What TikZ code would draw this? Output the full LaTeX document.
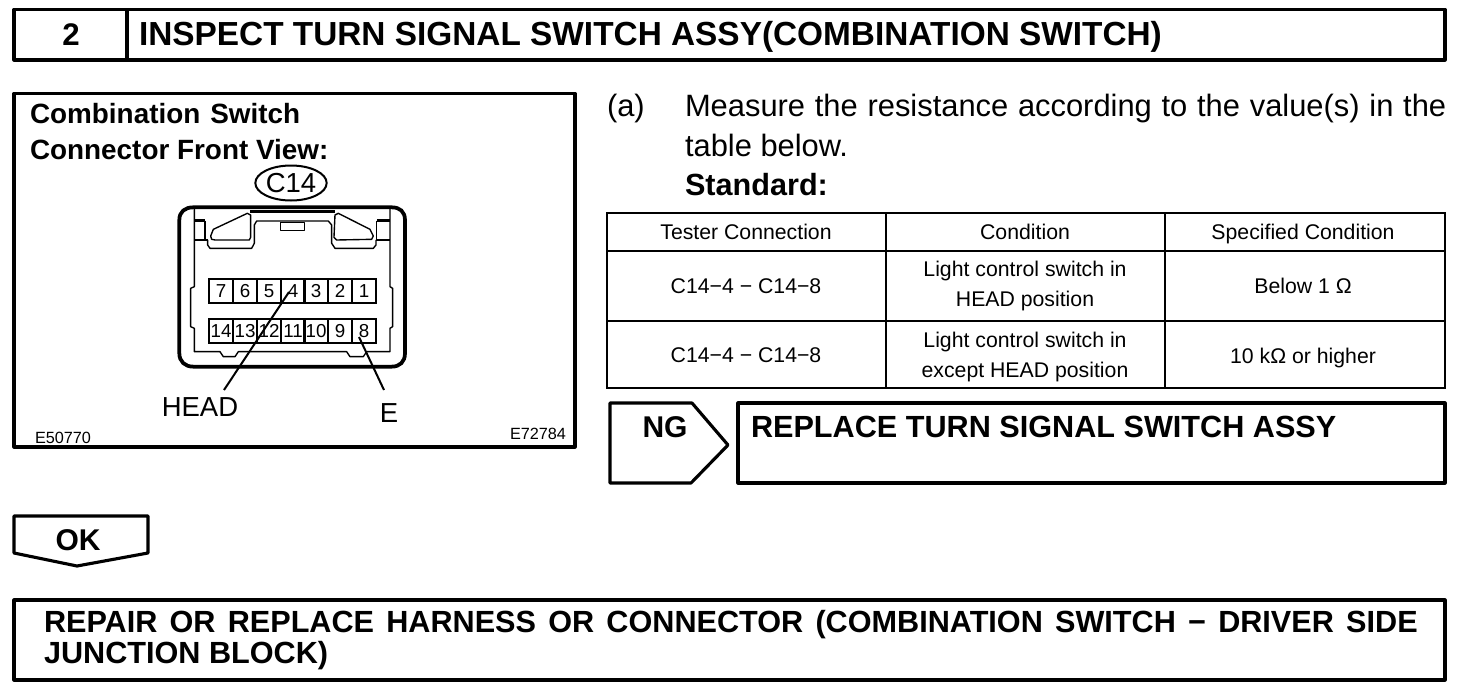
\documentclass[tikz,border=0pt]{standalone}
\usepackage{fontspec}
\setmainfont{Liberation Sans}
\usetikzlibrary{shapes.geometric}

\tikzset{
  heavyline/.style={line width=2.5pt,line join=round},
  tableline/.style={line width=2.1pt},
  thinline/.style={line width=1.1pt,line join=round},
  wallline/.style={line width=1.9pt,line join=round},
  boldtext/.style={anchor=base west,font=\fontsize{24.5}{24.5}\selectfont\bfseries},
  bodytext/.style={anchor=base west,font=\fontsize{24.7}{24.7}\selectfont},
  celltext/.style={align=center,font=\fontsize{17}{24.5}\selectfont},
  pinbox/.style={draw,line width=1.5pt,minimum width=19pt,minimum height=19pt,font=\fontsize{15}{15}\selectfont},
  smalltext/.style={anchor=base west,font=\fontsize{13}{13}\selectfont},
  labeltext/.style={font=\fontsize{22}{22}\selectfont}
}

\begin{document}
\begin{tikzpicture}[y=0.8pt, x=0.8pt,yscale=-1, inner sep=0pt, outer sep=0pt]
\useasboundingbox (0,0) rectangle (1472,690);

  % title bar
  \draw[heavyline] (14,9.5) rectangle (1445,60);
  \draw[heavyline] (127,9.5) -- (127,60);
  \path (71,45) node[anchor=base,font=\fontsize{25}{25}\selectfont\bfseries] (txtnum) {2};
  \path (139,45) node[anchor=base west,font=\fontsize{26.7}{26.7}\selectfont\bfseries] (txttitle) {INSPECT TURN SIGNAL SWITCH ASSY(COMBINATION SWITCH)};

  % connector panel
  \draw[heavyline] (14,93.5) rectangle (575,447);
  \path (30,123) node[boldtext,font=\fontsize{22.3}{22.3}\selectfont\bfseries] (txtcomb) {Combination\hspace{8pt}Switch};
  \path (30,159) node[boldtext,font=\fontsize{22.3}{22.3}\selectfont\bfseries] (txtview) {Connector Front View:};
  \path (291,183) node[draw,ellipse,line width=1.6pt,minimum width=56pt,minimum height=28pt,font=\fontsize{22}{22}\selectfont] (c14) {C14};

  \begin{scope}[shift={(160,160)},scale=0.3333]
    \draw[line width=3pt] (58,180) .. controls (58,155) and (75,142) .. (100,142) -- (695,142) .. controls (720,142) and (735,155) .. (735,180) -- (735,580) .. controls (735,605) and (720,620) .. (695,620) -- (100,620) .. controls (75,620) and (58,605) .. (58,580) -- cycle;
    \draw[thinline] (103,142) -- (103,380) -- (92,385) -- (92,500) -- (103,505) -- (103,575) -- (180,575) -- (190,590) -- (225,590) -- (235,575) -- (560,575) -- (570,590) -- (610,590) -- (620,575) -- (690,575) -- (690,505) -- (698,500) -- (698,385) -- (690,380) -- (690,142);
    \draw[wallline] (103,182) -- (135,182);
    \draw[wallline] (103,240) -- (143,240);
    \draw[thinline] (135,182) -- (135,240);
    \draw[wallline] (690,182) -- (650,182);
    \draw[wallline] (690,240) -- (648,240);
    \draw[thinline] (650,182) -- (650,240);
    \draw[wallline] (270,155) -- (525,155);
    \draw[thinline] (143,240) -- (143,255) -- (150,265) -- (275,265) -- (283,250) -- (283,195) -- (290,183) -- (505,183) -- (515,195) -- (515,250) -- (525,265) -- (640,265) -- (648,255) -- (648,240);
    \draw[thinline] (152,228) -- (160,208) -- (262,160) -- (272,165) -- (272,232) -- (268,240) -- (165,240) -- (155,238) -- cycle;
    \draw[thinline] (525,165) -- (535,160) -- (630,208) -- (640,228) -- (635,238) -- (530,240) -- (522,232) -- cycle;
    \draw[thinline] (362,187) rectangle (433,212);
  \end{scope}

  % upper pin row
  \path (221,291) node[pinbox] (pin7) {7};
  \path (245,291) node[pinbox] (pin6) {6};
  \path (269,291) node[pinbox] (pin5) {5};
  \path (293,291) node[pinbox] (pin4) {4};
  \path (316,291) node[pinbox] (pin3) {3};
  \path (340,291) node[pinbox] (pin2) {2};
  \path (364,291) node[pinbox] (pin1) {1};
  % lower pin row
  \path (221,331) node[pinbox] (pin14) {14};
  \path (245,331) node[pinbox] (pin13) {13};
  \path (269,331) node[pinbox] (pin12) {12};
  \path (293,331) node[pinbox] (pin11) {11};
  \path (316,331) node[pinbox] (pin10) {10};
  \path (340,331) node[pinbox] (pin9) {9};
  \path (364,331) node[pinbox] (pin8) {8};

  \path (200,407) node[labeltext] (txthead) {HEAD};
  \path (389,413) node[labeltext] (txte) {E};
  \coordinate (headend) at (224,390);
  \coordinate (eend) at (384,390);
  \coordinate (headtip) at (289,292);
  \coordinate (etip) at (359,337);
  \draw[line width=1.6pt] (headtip) -- (headend);
  \draw[line width=1.6pt] (etip) -- (eend);
  \path (35,443) node[smalltext] (txtcodea) {E50770};
  \path (510,439) node[smalltext] (txtcodeb) {E72784};

  % step text
  \path (607,116) node[bodytext] (txta) {(a)};
  \path (685,94) node[anchor=north west,text width=609pt,align=justify,font=\fontsize{24.7}{32}\selectfont] (txtmeasure) {Measure the resistance according to the value(s) in the table below.};
  \path (685,195) node[boldtext] (txtstd) {Standard:};

  % table
  \draw[tableline] (607,213) rectangle (1445,388);
  \draw[tableline] (607,251) -- (1445,251);
  \draw[tableline] (607,321) -- (1445,321);
  \draw[tableline] (886,213) -- (886,388);
  \draw[tableline] (1165,213) -- (1165,388);
  \path (746,232) node[celltext] (cellaa) {Tester Connection};
  \path (1025,232) node[celltext] (cellab) {Condition};
  \path (1303,234) node[celltext] (cellac) {Specified Condition};
  \path (746,286) node[celltext] (cellba) {C14−4 − C14−8};
  \path (1025,286) node[celltext] (cellbb) {Light control switch in\\HEAD position};
  \path (1303,286) node[celltext] (cellbc) {Below 1 Ω};
  \path (746,355) node[celltext] (cellca) {C14−4 − C14−8};
  \path (1025,357) node[celltext] (cellcb) {Light control switch in\\except HEAD position};
  \path (1303,358) node[celltext] (cellcc) {10 kΩ or higher};

  % NG result
  \draw[heavyline] (610,403) -- (692,403) -- (728,445) -- (691,483) -- (610,483) -- cycle;
  \path (665,437) node[anchor=base,font=\fontsize{24}{24}\selectfont\bfseries] (txtng) {NG};
  \draw[heavyline] (738,403) rectangle (1445,483);
  \path (751,437) node[boldtext] (txtreplace) {REPLACE TURN SIGNAL SWITCH ASSY};

  % OK result
  \draw[heavyline] (14,516) -- (148,516) -- (148,553) -- (77,566) -- (14,553) -- cycle;
  \path (78,550) node[anchor=base,font=\fontsize{24}{24}\selectfont\bfseries] (txtok) {OK};
  \draw[heavyline] (14,600) rectangle (1445,680);
  \path (44,610) node[anchor=north west,text width=1099pt,align=justify,font=\fontsize{24.5}{24.8}\selectfont\bfseries] (txtrepair) {REPAIR OR REPLACE HARNESS OR CONNECTOR (COMBINATION SWITCH − DRIVER SIDE JUNCTION BLOCK)};

\end{tikzpicture}
\end{document}
